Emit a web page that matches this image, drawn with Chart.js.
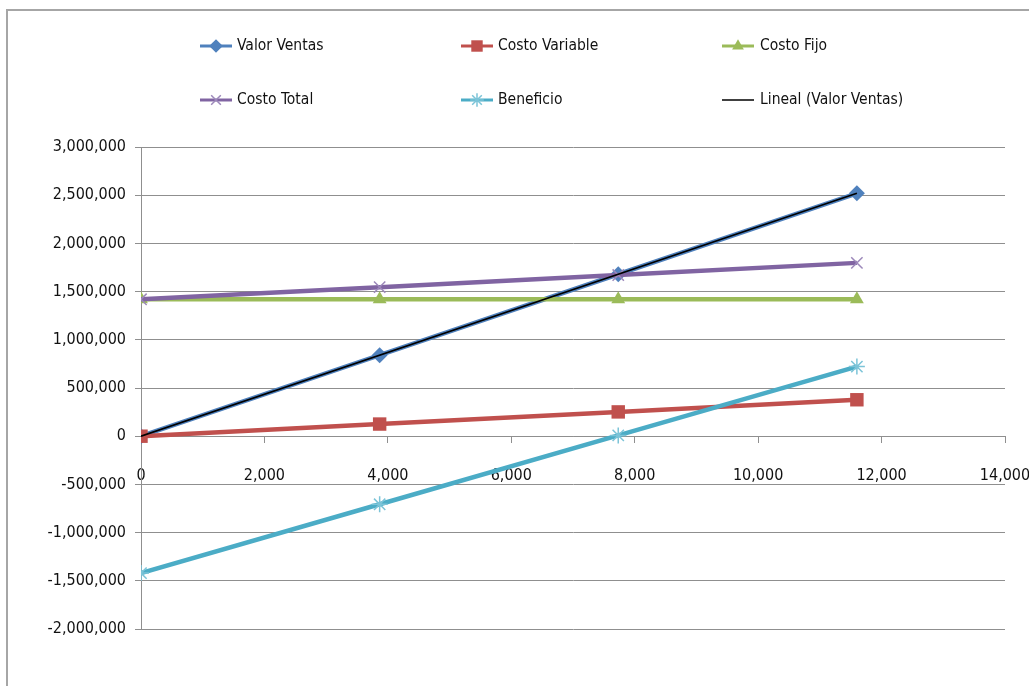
<!DOCTYPE html>
<html><head><meta charset="utf-8">
<script src="https://cdn.jsdelivr.net/npm/chart.js@4.4.1/dist/chart.umd.min.js"></script>
<style>html,body{margin:0;padding:0;background:#fff;overflow:hidden}#wrap{width:1029px;height:686px;position:relative}</style>
</head><body><div id="wrap"><canvas id="c" width="1029" height="686"></canvas></div>
<script>
const unidades = [0, 3867, 7733, 11600];
const valorVentas = [0, 840000, 1680000, 2520000];
const costoVariable = [0, 126000, 252000, 378000];
const costoFijo = [1420000, 1420000, 1420000, 1420000];
const costoTotal = [1420000, 1546000, 1672000, 1798000];
const beneficio = [-1420000, -706000, 8000, 722000];
const linealX = [0, 11600];
const linealY = [0, 2520000];
const xTicks = [0, 2000, 4000, 6000, 8000, 10000, 12000, 14000];
const yTicks = [-2000000, -1500000, -1000000, -500000, 0, 500000, 1000000, 1500000, 2000000, 2500000, 3000000];

const FONT = "'DejaVu Sans Condensed', 'DejaVu Sans', sans-serif";
const GRID = '#8f8f8f';
const pts = (xs, ys) => xs.map((x, i) => ({x: x, y: ys[i]}));

const datasets = [
  {label: 'Valor Ventas', data: pts(unidades, valorVentas), borderColor: '#4F81BD', backgroundColor: '#4F81BD', pointStyle: 'rectRot', pointRadius: 8, pointBorderWidth: 0, borderWidth: 4.5, order: 5},
  {label: 'Costo Variable', data: pts(unidades, costoVariable), borderColor: '#C0504D', backgroundColor: '#C0504D', pointStyle: 'rect', pointRadius: 9.5, pointBorderWidth: 0, borderWidth: 4.5, order: 4},
  {label: 'Costo Fijo', data: pts(unidades, costoFijo), borderColor: '#9BBB59', backgroundColor: '#9BBB59', pointStyle: 'triangle', pointRadius: 8, pointBorderWidth: 0, borderWidth: 4.5, order: 3},
  {label: 'Costo Total', data: pts(unidades, costoTotal), borderColor: '#8064A2', backgroundColor: '#8064A2', pointStyle: 'crossRot', pointRadius: 8, pointBorderWidth: 1.5, pointBorderColor: '#9C88BA', borderWidth: 4.5, order: 2},
  {label: 'Beneficio', data: pts(unidades, beneficio), borderColor: '#4BACC6', backgroundColor: '#4BACC6', pointStyle: 'star', pointRadius: 8, pointBorderWidth: 1.5, pointBorderColor: '#7CC4D8', borderWidth: 4.5, order: 1},
  {label: 'Lineal (Valor Ventas)', data: pts(linealX, linealY), borderColor: '#000000', backgroundColor: '#000000', pointRadius: 0, borderWidth: 1.8, order: 0}
];

const legendPos = [
  {lx: 200, tx: 237, y: 46}, {lx: 461, tx: 498, y: 46}, {lx: 722, tx: 760, y: 46},
  {lx: 200, tx: 237, y: 100}, {lx: 461, tx: 498, y: 100}, {lx: 722, tx: 760, y: 100}
];

const framePlugin = {
  id: 'frame',
  beforeDraw(chart) {
    const ctx = chart.ctx;
    ctx.save();
    ctx.fillStyle = '#fff';
    ctx.fillRect(0, 0, chart.width, chart.height);
    ctx.strokeStyle = '#a6a6a6';
    ctx.lineWidth = 2;
    ctx.beginPath();
    ctx.moveTo(7, chart.height);
    ctx.lineTo(7, 10);
    ctx.lineTo(chart.width, 10);
    ctx.stroke();
    ctx.restore();
  },
  afterDraw(chart) {
    const ctx = chart.ctx;
    ctx.save();
    chart.data.datasets.forEach((ds, i) => {
      const p = legendPos[i];
      ctx.strokeStyle = ds.borderColor;
      ctx.lineWidth = ds.pointRadius ? 3 : 1.5;
      ctx.beginPath();
      ctx.moveTo(p.lx, p.y);
      ctx.lineTo(p.lx + 32, p.y);
      ctx.stroke();
      if (ds.pointRadius) {
        ctx.fillStyle = ds.backgroundColor;
        ctx.strokeStyle = ds.pointBorderColor || ds.borderColor;
        ctx.lineWidth = ds.pointBorderWidth || 0;
        Chart.helpers.drawPoint(ctx, {pointStyle: ds.pointStyle, radius: ds.pointRadius * 0.85, rotation: 0, borderWidth: ds.pointBorderWidth || 0}, p.lx + 16, p.y);
      }
      ctx.fillStyle = '#111';
      ctx.font = '15.5px ' + FONT;
      ctx.textBaseline = 'middle';
      ctx.textAlign = 'left';
      ctx.fillText(ds.label, p.tx, p.y);
    });
    ctx.restore();
  }
};

const fmt = v => Number(v).toLocaleString('en-US');

new Chart(document.getElementById('c'), {
  type: 'scatter',
  data: {datasets: datasets},
  options: {
    responsive: false,
    devicePixelRatio: 1,
    animation: false,
    showLine: true,
    layout: {padding: {left: 0, top: 147, right: 24, bottom: 57}},
    elements: {line: {tension: 0}},
    plugins: {legend: {display: false}, tooltip: {enabled: false}},
    scales: {
      x: {
        type: 'linear',
        position: {y: 0},
        min: 0, max: 14000,
        afterBuildTicks: s => { s.ticks = xTicks.map(v => ({value: v})); },
        afterFit: s => { s.paddingLeft = 0; s.paddingRight = 0; },
        ticks: {callback: v => fmt(v), color: '#111', font: {family: FONT, size: 16}, padding: 24, maxRotation: 0, autoSkip: false},
        grid: {drawOnChartArea: false, drawTicks: true, tickLength: 6, color: GRID, lineWidth: 1},
        border: {display: true, color: GRID, width: 1}
      },
      y: {
        type: 'linear',
        position: 'left',
        min: -2000000, max: 3000000,
        afterBuildTicks: s => { s.ticks = yTicks.map(v => ({value: v})); },
        afterFit: s => { s.width = 141; },
        ticks: {callback: v => fmt(v), color: '#111', font: {family: FONT, size: 16}, padding: 9, autoSkip: false},
        grid: {drawOnChartArea: true, drawTicks: true, tickLength: 6, color: GRID, lineWidth: 1},
        border: {display: true, color: GRID, width: 1}
      }
    }
  },
  plugins: [framePlugin]
});
</script></body></html>
